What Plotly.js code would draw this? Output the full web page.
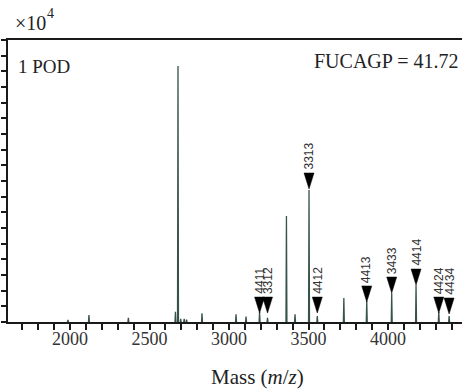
<!DOCTYPE html>
<html>
<head>
<meta charset="utf-8">
<script src="https://cdn.plot.ly/plotly-3.0.1.min.js"></script>
<style>html,body{margin:0;padding:0;background:#fff;}#chart{width:462px;height:391px;}</style>
</head>
<body>
<div id="chart"></div>
<script>
// Peak list (mass m/z, intensity ×10^4)
const peakMass = [1987, 2119, 2367, 2663, 2679, 2696, 2718, 2733, 2830, 3044, 3107, 3192, 3242, 3361, 3415, 3503, 3555, 3722, 3866, 4023, 4176, 4319, 4384];
const peakIntensity = [0.013, 0.045, 0.026, 0.066, 1.634, 0.02, 0.02, 0.015, 0.055, 0.05, 0.034, 0.064, 0.026, 0.677, 0.05, 0.843, 0.038, 0.153, 0.134, 0.185, 0.236, 0.064, 0.038];

// Annotated peaks (arrow markers with composition labels)
const labelMass = [3192, 3242, 3503, 3555, 3866, 4023, 4176, 4319, 4384];
const labelText = ["4411", "3312", "3313", "4412", "4413", "3433", "4414", "4424", "4434"];
const arrowTip = [0.057, 0.057, 0.849, 0.057, 0.128, 0.185, 0.236, 0.057, 0.051];

const xTickVals = [2000, 2500, 3000, 3500, 4000];
const xTickText = ["2000", "2500", "3000", "3500", "4000"];

const xRange = [1610, 4465];
const yRange = [0, 1.8];

// style constants (pixel sizes converted through axis scales)
const plotW = 454, plotH = 282;
const unitPerPxX = (xRange[1] - xRange[0]) / plotW;
const unitPerPxY = (yRange[1] - yRange[0]) / plotH;
const arrowHalfW = 5 * unitPerPxX;
const arrowH = 16 * unitPerPxY;
const stickHalf = 3;

// spectrum sticks
const sx = [], sy = [];
for (let i = 0; i < peakMass.length; i++) {
  sx.push(peakMass[i] - stickHalf, peakMass[i], peakMass[i] + stickHalf, null);
  sy.push(0, peakIntensity[i], 0, null);
}
// arrow triangles
const ax = [], ay = [];
for (let i = 0; i < labelMass.length; i++) {
  ax.push(labelMass[i] - arrowHalfW, labelMass[i] + arrowHalfW, labelMass[i], labelMass[i] - arrowHalfW, null);
  ay.push(arrowTip[i] + arrowH, arrowTip[i] + arrowH, arrowTip[i], arrowTip[i] + arrowH, null);
}

const serif = '"Liberation Serif", "Times New Roman", serif';
const sans = '"Liberation Sans", Arial, sans-serif';

const traces = [
  {x: sx, y: sy, type: 'scatter', mode: 'lines', line: {color: '#37524a', width: 1.3}, hoverinfo: 'skip', showlegend: false},
  {x: ax, y: ay, type: 'scatter', mode: 'lines', fill: 'toself', fillcolor: '#000', line: {color: '#000', width: 0.5}, hoverinfo: 'skip', showlegend: false}
];

const annotations = labelMass.map((m, i) => ({
  x: m, y: arrowTip[i] + arrowH, xref: 'x', yref: 'y',
  text: labelText[i], showarrow: false, textangle: -90,
  xanchor: 'center', yanchor: 'bottom', yshift: 1,
  font: {family: sans, size: 12, color: '#333'}
}));

annotations.push(
  {x: 0.0176, y: 0.905, xref: 'paper', yref: 'paper', xanchor: 'left', yanchor: 'middle', text: '1 POD', showarrow: false, font: {family: serif, size: 19, color: '#222'}},
  {x: 0.995, y: 0.925, xref: 'paper', yref: 'paper', xanchor: 'right', yanchor: 'middle', text: 'FUCAGP = 41.72', showarrow: false, font: {family: serif, size: 20, color: '#222'}},
  {x: 0.012, y: 1.062, xref: 'paper', yref: 'paper', xanchor: 'left', yanchor: 'middle', text: '×10', showarrow: false, font: {family: serif, size: 20, color: '#222'}},
  {x: 0.082, y: 1.094, xref: 'paper', yref: 'paper', xanchor: 'left', yanchor: 'middle', text: '4', showarrow: false, font: {family: serif, size: 14, color: '#222'}},
  {x: 0.5496, y: -0.195, xref: 'paper', yref: 'paper', xanchor: 'center', yanchor: 'middle', text: 'Mass (<i>m</i>/<i>z</i>)', showarrow: false, font: {family: serif, size: 21, color: '#222'}}
);

const layout = {
  width: 462, height: 391,
  margin: {l: 8, r: 0, t: 40, b: 69, pad: 0},
  paper_bgcolor: '#fff', plot_bgcolor: '#fff',
  showlegend: false,
  xaxis: {
    range: xRange, showgrid: false, zeroline: false,
    showline: true, linecolor: '#1a1a1a', linewidth: 2, mirror: true,
    tickmode: 'array', tickvals: xTickVals, ticktext: xTickText,
    ticks: 'outside', ticklen: 6, tickwidth: 2, tickcolor: '#1a1a1a',
    ticklabelstandoff: -7,
    minor: {dtick: 100, tick0: 2000, ticks: 'outside', ticklen: 6, tickwidth: 2, tickcolor: '#1a1a1a', showgrid: false},
    tickfont: {family: serif, size: 18, color: '#333'}
  },
  yaxis: {
    range: yRange, showgrid: false, zeroline: false,
    showline: true, linecolor: '#1a1a1a', linewidth: 2,
    tickmode: 'linear', tick0: 0, dtick: 0.1,
    ticks: 'outside', ticklen: 5, tickwidth: 2, tickcolor: '#1a1a1a',
    showticklabels: false
  },
  annotations: annotations
};

Plotly.newPlot('chart', traces, layout, {displayModeBar: false, staticPlot: true});
</script>
</body>
</html>
